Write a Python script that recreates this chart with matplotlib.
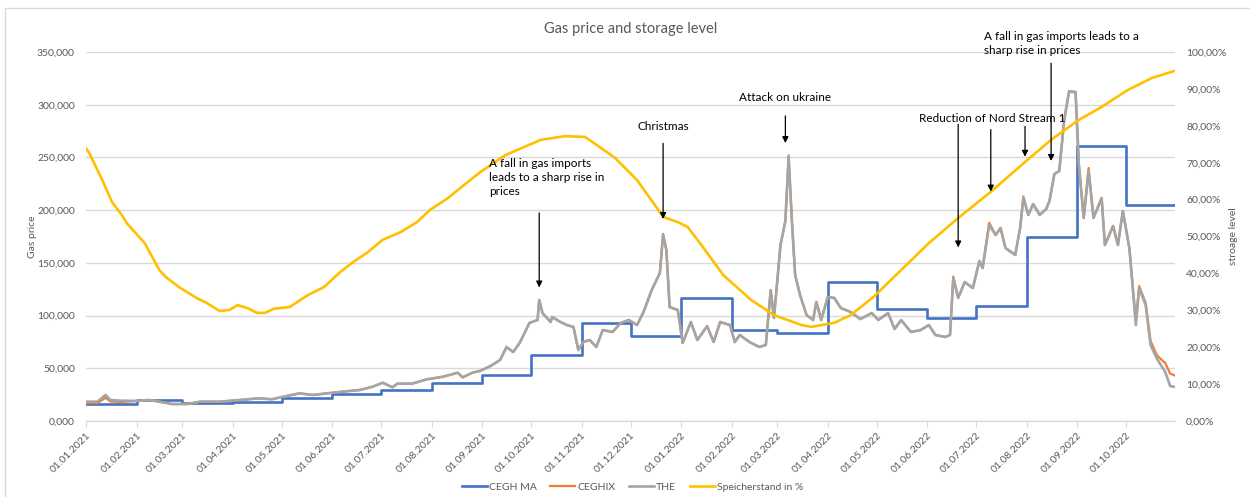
import matplotlib
matplotlib.use("Agg")
import matplotlib.pyplot as plt
import matplotlib.dates as mdates
import matplotlib.ticker as mticker
from matplotlib.patches import Rectangle
import pandas as pd

plt.rcParams['font.family'] = ['Lato', 'DejaVu Sans']

# CEGH month-ahead price, one value per month (EUR/MWh)
ma_months = pd.date_range("2021-01-01", "2022-10-01", freq="MS")
ma_price = [15.8, 19.9, 17.4, 18.3, 21.5, 25.6, 29.4, 36.3, 43.5, 62.6, 93.0, 80.6,
            117.0, 86.3, 83.2, 131.5, 105.9, 98.0, 109.4, 174.2, 260.8, 205.2]
ma_end = "2022-10-31"

# spot prices THE / CEGHIX (EUR/MWh)
spot_dates = [
    "2021-01-01", "2021-01-08", "2021-01-13", "2021-01-16", "2021-01-22",
    "2021-02-01", "2021-02-09", "2021-02-15", "2021-02-23",
    "2021-03-04", "2021-03-12", "2021-03-24",
    "2021-04-05", "2021-04-17", "2021-04-25",
    "2021-05-04", "2021-05-12", "2021-05-20", "2021-05-29",
    "2021-06-07", "2021-06-18", "2021-06-26",
    "2021-07-02", "2021-07-08", "2021-07-11", "2021-07-20", "2021-07-29",
    "2021-08-08", "2021-08-17", "2021-08-20", "2021-08-26", "2021-08-31",
    "2021-09-06", "2021-09-12", "2021-09-16", "2021-09-20", "2021-09-24", "2021-09-30",
    "2021-10-05", "2021-10-06", "2021-10-08", "2021-10-13", "2021-10-14", "2021-10-19",
    "2021-10-23", "2021-10-27", "2021-10-30",
    "2021-11-02", "2021-11-06", "2021-11-10", "2021-11-14", "2021-11-20", "2021-11-25", "2021-11-30",
    "2021-12-05", "2021-12-09", "2021-12-14", "2021-12-19", "2021-12-21", "2021-12-23",
    "2021-12-25", "2021-12-30",
    "2022-01-02", "2022-01-07", "2022-01-11", "2022-01-17", "2022-01-21", "2022-01-25", "2022-01-31",
    "2022-02-03", "2022-02-06", "2022-02-12", "2022-02-18", "2022-02-22", "2022-02-25", "2022-02-27",
    "2022-03-03", "2022-03-06", "2022-03-08", "2022-03-10", "2022-03-12", "2022-03-15",
    "2022-03-19", "2022-03-23", "2022-03-25", "2022-03-28",
    "2022-04-01", "2022-04-05", "2022-04-09", "2022-04-15", "2022-04-21", "2022-04-28",
    "2022-05-02", "2022-05-08", "2022-05-12", "2022-05-16", "2022-05-22", "2022-05-28",
    "2022-06-02", "2022-06-06", "2022-06-12", "2022-06-15", "2022-06-17", "2022-06-20",
    "2022-06-24", "2022-06-29",
    "2022-07-03", "2022-07-05", "2022-07-09", "2022-07-13", "2022-07-16", "2022-07-19",
    "2022-07-25", "2022-07-28", "2022-07-30",
    "2022-08-02", "2022-08-05", "2022-08-09", "2022-08-13", "2022-08-15", "2022-08-18",
    "2022-08-21", "2022-08-24", "2022-08-27", "2022-08-31",
    "2022-09-02", "2022-09-05", "2022-09-08", "2022-09-11", "2022-09-16", "2022-09-18",
    "2022-09-23", "2022-09-26", "2022-09-29",
    "2022-10-03", "2022-10-07", "2022-10-09", "2022-10-13", "2022-10-16", "2022-10-20",
    "2022-10-25", "2022-10-28", "2022-10-31",
]
the_price = [
    18.3, 18.3, 24.7, 19.9, 19.3,
    19.0, 19.9, 18.3, 16.1,
    16.1, 18.3, 18.3,
    19.9, 21.5, 20.6,
    23.7, 26.2, 24.7, 26.2,
    27.8, 29.4, 32.6,
    36.3, 32.0, 35.4, 35.4, 39.5,
    42.0, 45.8, 41.4, 45.8, 47.7,
    52.0, 57.9, 70.2, 65.4, 74.0, 93.0,
    95.8, 114.8, 102.4, 93.9, 98.6, 93.9,
    91.0, 89.2, 67.3,
    74.9, 76.8, 70.2, 86.3, 84.4, 93.0, 95.8,
    91.0, 103.4, 124.2, 140.4, 176.4, 162.2,
    108.1, 105.3,
    74.0, 93.9, 76.8, 90.0, 75.0, 93.9, 91.0,
    74.9, 81.6, 74.9, 70.2, 72.1, 124.2, 97.7,
    166.9, 189.7, 250.4, 189.7, 138.5, 119.5,
    100.5, 95.8, 112.9, 95.8,
    117.6, 116.7, 107.2, 103.4, 96.7, 102.4,
    95.8, 102.4, 87.3, 95.8, 84.4, 86.3,
    91.0, 81.6, 79.7, 81.6, 135.6, 116.7,
    131.8, 126.1,
    151.8, 145.1, 185.9, 176.4, 183.1, 164.1,
    157.5, 183.1, 211.5,
    195.4, 205.8, 195.4, 201.1, 208.7, 234.3,
    237.1, 285.0, 312.1, 312.1,
    243.8, 192.6, 237.1, 192.6, 211.5, 166.9,
    185.0, 166.9, 199.2,
    164.1, 91.0, 126.1, 110.0, 72.1, 58.8,
    46.5, 33.2, 32.2,
]
ceghix_price = [
    16.8, 17.0, 22.0, 18.5, 18.0,
    19.0, 19.9, 18.3, 16.1,
    16.1, 18.3, 18.3,
    19.9, 21.5, 20.6,
    23.7, 26.2, 24.7, 26.2,
    27.8, 29.4, 32.6,
    36.3, 32.0, 35.4, 35.4, 39.5,
    42.0, 45.8, 41.4, 45.8, 47.7,
    52.0, 57.9, 70.2, 65.4, 74.0, 93.0,
    95.8, 114.8, 102.4, 93.9, 98.6, 93.9,
    91.0, 89.2, 67.3,
    74.9, 76.8, 70.2, 86.3, 84.4, 93.0, 95.8,
    91.0, 103.4, 124.2, 140.4, 177.5, 162.2,
    108.1, 105.3,
    74.0, 93.9, 76.8, 90.0, 75.0, 93.9, 91.0,
    74.9, 81.6, 74.9, 70.2, 72.1, 124.2, 97.7,
    166.9, 189.7, 252.0, 189.7, 138.5, 119.5,
    100.5, 95.8, 112.9, 95.8,
    117.6, 116.7, 107.2, 103.4, 96.7, 102.4,
    95.8, 102.4, 87.3, 95.8, 84.4, 86.3,
    91.0, 81.6, 79.7, 81.6, 137.0, 116.7,
    131.8, 126.1,
    151.8, 145.1, 188.0, 176.4, 183.1, 164.1,
    157.5, 183.1, 213.0,
    195.4, 205.8, 195.4, 201.1, 208.7, 234.3,
    237.1, 285.0, 313.0, 312.1,
    243.8, 192.6, 240.0, 192.6, 211.5, 166.9,
    185.0, 166.9, 199.2,
    164.1, 95.0, 128.0, 112.0, 76.0, 62.0,
    55.0, 45.0, 43.0,
]

# storage level in %
storage_dates = [
    "2021-01-01", "2021-01-03", "2021-01-11", "2021-01-17", "2021-01-23", "2021-01-26",
    "2021-02-06", "2021-02-15", "2021-02-19", "2021-02-27",
    "2021-03-10", "2021-03-16", "2021-03-24", "2021-03-30",
    "2021-04-04", "2021-04-10", "2021-04-16", "2021-04-21", "2021-04-26",
    "2021-05-06", "2021-05-17", "2021-05-27",
    "2021-06-06", "2021-06-14", "2021-06-23",
    "2021-07-02", "2021-07-13", "2021-07-23", "2021-07-31",
    "2021-08-11", "2021-08-21", "2021-08-31",
    "2021-09-15", "2021-10-07", "2021-10-22", "2021-11-03", "2021-11-21",
    "2021-12-05", "2021-12-15", "2021-12-21", "2021-12-30",
    "2022-01-05", "2022-01-13", "2022-01-27", "2022-02-13", "2022-02-27",
    "2022-03-16", "2022-03-22", "2022-04-05", "2022-04-15", "2022-04-29",
    "2022-05-16", "2022-06-02", "2022-06-20", "2022-07-10", "2022-07-31",
    "2022-08-16", "2022-09-02", "2022-09-16", "2022-10-02", "2022-10-17", "2022-10-31",
]
storage_pct = [
    73.9, 72.6, 65.3, 59.3, 55.8, 53.6,
    48.2, 40.9, 39.0, 36.3,
    33.3, 32.0, 29.8, 30.1,
    31.4, 30.6, 29.3, 29.3, 30.4,
    30.9, 34.1, 36.3,
    40.4, 43.1, 45.8,
    49.1, 51.2, 53.9, 57.2,
    60.4, 64.0, 67.5,
    72.0, 76.2, 77.2, 77.0, 71.5,
    65.3, 59.1, 55.3, 53.9,
    52.6, 48.0, 39.5, 32.8, 28.7,
    26.0, 25.5, 26.6, 28.7, 33.6,
    40.9, 48.2, 55.0, 62.1, 70.2,
    76.2, 81.6, 85.1, 89.7, 93.0, 94.9,
]

gray_txt = "#595959"
grid_col = "#d9d9d9"

fig = plt.figure(figsize=(12.5, 4.97), dpi=100)
fig.patches.append(Rectangle((5 / 1250, -0.1), 1.2, (497 - 8) / 497 + 0.1,
                             transform=fig.transFigure, fill=False,
                             edgecolor=grid_col, lw=1))
ax = fig.add_axes([86 / 1250, 76 / 497, 1089 / 1250, 369 / 497])
ax2 = ax.twinx()

ma_x = list(ma_months) + [pd.Timestamp(ma_end)]
ma_y = ma_price + [ma_price[-1]]
sd = pd.to_datetime(spot_dates)
ax.step(ma_x, ma_y, where="post", color="#4472C4", lw=1.9, label="CEGH MA")
ax.plot(sd, ceghix_price, color="#ED7D31", lw=1.6, label="CEGHIX")
ax.plot(sd, the_price, color="#A5A5A5", lw=1.9, label="THE")
ax2.plot(pd.to_datetime(storage_dates), storage_pct, color="#FFC000", lw=1.9,
         label="Speicherstand in %")

ax.set_ylim(0, 350)
ax.set_yticks(range(0, 351, 50))
ax.yaxis.set_major_formatter(mticker.FuncFormatter(lambda v, p: f"{v:.3f}".replace(".", ",")))
ax2.set_ylim(0, 100)
ax2.set_yticks(range(0, 101, 10))
ax2.yaxis.set_major_formatter(mticker.FuncFormatter(lambda v, p: f"{v:.2f}%".replace(".", ",")))

ax.set_xlim(pd.Timestamp("2021-01-01"), pd.Timestamp(ma_end))
ax.set_xticks(list(ma_months))
ax.xaxis.set_major_formatter(mdates.DateFormatter("%d.%m.%Y"))
for lbl in ax.get_xticklabels():
    lbl.set_rotation(45)
    lbl.set_ha("right")
    lbl.set_rotation_mode("anchor")

ax.grid(axis="y", color=grid_col, lw=1)
ax.set_axisbelow(True)
for a in (ax, ax2):
    for s in ("top", "left", "right"):
        a.spines[s].set_visible(False)
    a.spines["bottom"].set_color(grid_col)
ax.tick_params(axis="x", colors=grid_col, labelcolor=gray_txt, labelsize=7.5, length=4, pad=3)
ax.tick_params(axis="y", length=0, labelcolor=gray_txt, labelsize=7.5, pad=8)
ax2.tick_params(axis="y", length=0, labelcolor=gray_txt, labelsize=7.5, pad=8)

ax.set_ylabel("Gas price", color=gray_txt, fontsize=7.5, labelpad=0)
ax2.set_ylabel("stroage level", color=gray_txt, fontsize=7.5, labelpad=2)
ax.set_title("Gas price and storage level", color=gray_txt, fontsize=10.5, pad=14)

# annotations (drawn on top axis, placed in price coordinates)
tr = ax.transData
arrow = dict(arrowstyle="-|>", color="black", lw=0.9, mutation_scale=9)
arrows = [
    ("2021-10-06", 200, 124),
    ("2021-12-21", 266, 189),
    ("2022-03-06", 292, 261),
    ("2022-06-20", 284, 162),
    ("2022-07-10", 279, 215),
    ("2022-07-31", 282, 248),
    ("2022-08-16", 342, 244),
]
for d, y0, y1 in arrows:
    xd = mdates.date2num(pd.Timestamp(d))
    ax2.annotate("", xy=(xd, y1), xytext=(xd, y0), xycoords=tr, textcoords=tr,
                 arrowprops=arrow)

txt = dict(color="black", fontsize=8.5, transform=tr, linespacing=1.35)
ax2.text(mdates.date2num(pd.Timestamp("2021-09-05")), 212,
         "A fall in gas imports\nleads to a sharp rise in\nprices", va="bottom", ha="left", **txt)
ax2.text(mdates.date2num(pd.Timestamp("2021-12-21")), 279, "Christmas",
         va="center", ha="center", **txt)
ax2.text(mdates.date2num(pd.Timestamp("2022-03-06")), 307, "Attack on ukraine",
         va="center", ha="center", **txt)
ax2.text(mdates.date2num(pd.Timestamp("2022-05-27")), 287, "Reduction of Nord Stream 1",
         va="center", ha="left", **txt)
ax2.text(mdates.date2num(pd.Timestamp("2022-07-06")), 346,
         "A fall in gas imports leads to a\nsharp rise in prices", va="bottom", ha="left", **txt)

h1, l1 = ax.get_legend_handles_labels()
h2, l2 = ax2.get_legend_handles_labels()
fig.legend(h1 + h2, l1 + l2, loc="center", bbox_to_anchor=(0.506, 0.02), ncol=4,
           frameon=False, fontsize=7.5, handlelength=2.4, columnspacing=1.3,
           handletextpad=0.2, labelcolor=gray_txt)

fig.savefig("out.png", dpi=100)
